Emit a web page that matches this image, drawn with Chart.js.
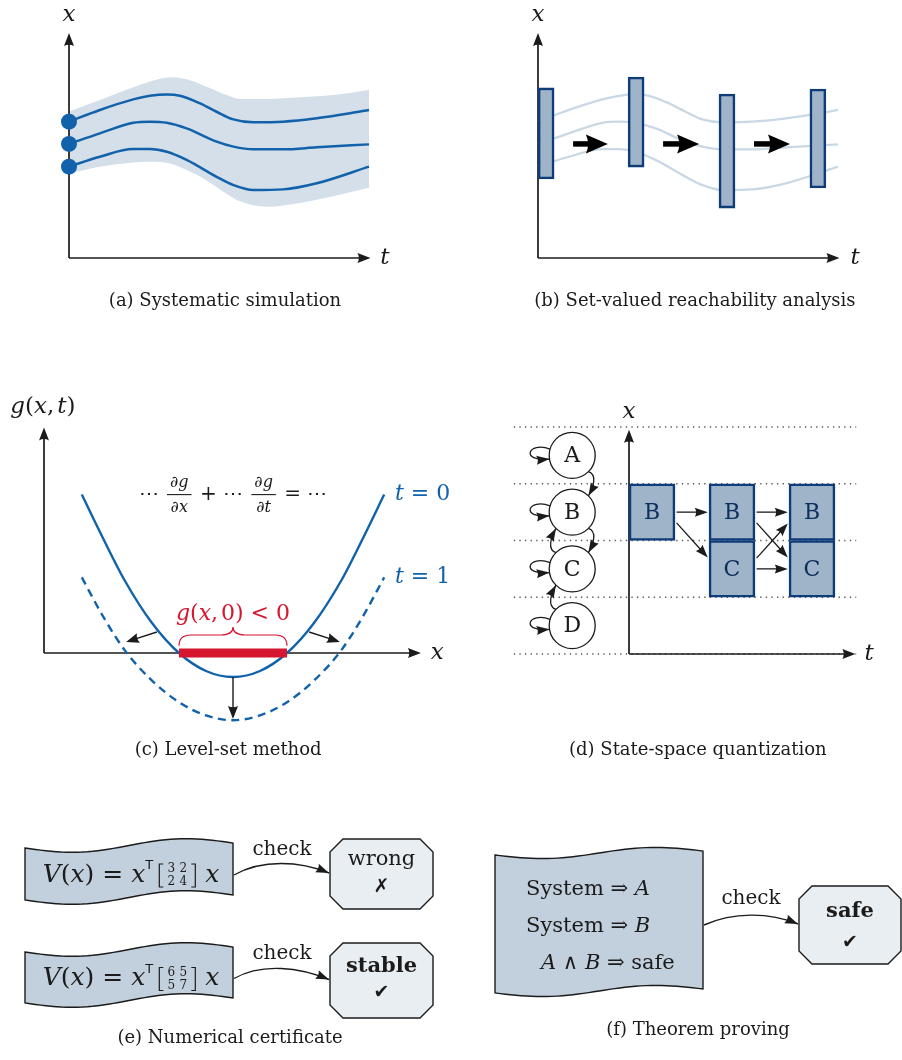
<!DOCTYPE html>
<html>
<head>
<meta charset="utf-8">
<script src="https://cdn.jsdelivr.net/npm/chart.js@4.4.1/dist/chart.umd.min.js"></script>
<style>
  html, body { margin: 0; padding: 0; background: #fff; }
  #page { position: relative; width: 902px; height: 1060px; overflow: hidden; background: #fff; }
  #page canvas { position: absolute; }
</style>
</head>
<body>
<div id="page">
  <canvas id="panelA"></canvas>
  <canvas id="panelB"></canvas>
  <canvas id="panelC"></canvas>
  <canvas id="panelD"></canvas>
  <canvas id="panelE"></canvas>
  <canvas id="panelF"></canvas>
</div>
<script>
// ---------------- (a)/(b) sampled trajectories, [t, x] ----------------
const trajUpper = [[0,6.06],[1.03,6.58],[2.14,7.05],[2.7,7.21],[3.26,7.27],[3.7,7.21],[4.37,6.87],[4.92,6.5],[5.48,6.16],[6.14,6.03],[7.14,6.06],[8.26,6.21],[9.37,6.43],[10,6.58]];
const trajMiddle = [[0,5.07],[1.03,5.54],[2.14,6.01],[2.7,6.06],[3.26,6.01],[3.92,5.76],[4.92,5.17],[5.48,4.95],[6.14,4.83],[7.14,4.83],[8.26,4.92],[10,5.05]];
const trajLower = [[0,4.06],[1.03,4.5],[2.14,4.84],[2.7,4.84],[3.26,4.72],[3.92,4.36],[4.92,3.61],[5.48,3.24],[6.14,3.02],[7.14,3.05],[8.26,3.32],[10,4.06]];
// uncertainty band around the trajectories (same time samples for both edges)
const bandT = [0, 1.03, 2.14, 2.7, 3.37, 3.92, 4.59, 5.26, 5.7, 6.59, 7.7, 8.81, 10];
const bandHigh = [6.5, 7.02, 7.59, 7.84, 8.03, 7.94, 7.61, 7.24, 7.07, 7.07, 7.14, 7.24, 7.47];
const bandLow = [3.76, 4.06, 4.25, 4.28, 4.2, 3.91, 3.45, 2.85, 2.52, 2.28, 2.45, 2.75, 3.12];

// ---------------- (b) reachable-set enclosures ----------------
const reachT = [0.27, 3.27, 6.3, 9.33];
const reachLo = [3.51, 4.04, 2.22, 3.11];
const reachHi = [7.56, 8.04, 7.29, 7.51];
const stepArrows = [[1.17, 2.33], [4.17, 5.37], [7.2, 8.4]];
const stepArrowX = 5.07;

// ---------------- (c) level-set function g(x,t) ----------------
const levelX  = [-2.8, -2.4, -2, -1.5, -1, -0.5, 0, 0.5, 1, 1.5, 2, 2.4, 2.8];
const levelG0 = [6.6, 4.75, 3, 1.25, 0, -0.75, -1, -0.75, 0, 1.25, 3, 4.75, 6.6];
const levelG1 = [3.15, 1.5, 0.1, -1.15, -2.05, -2.6, -2.8, -2.6, -2.05, -1.15, 0.1, 1.5, 3.15];
const negativeSet = [-1, 1];
const levelMoves = [[-1.41, 0.875, -1.98, 0.46], [1.41, 0.875, 1.98, 0.46], [0, -1, 0, -2.75]];

// ---------------- (d) quantized state space ----------------
const rowBounds = [0, 1, 2, 3, 4];
const nodeNames = ['A', 'B', 'C', 'D'];
const nodeRows = [3.5, 2.5, 1.5, 0.5];
const nodeT = -0.71;
const nodeEdges = [['A', 'B', 'right'], ['B', 'C', 'right'], ['C', 'B', 'left'], ['D', 'C', 'left']];
const cellT = [0, 1, 1, 2, 2];
const cellRow = [2, 2, 1, 2, 1];
const cellName = ['B', 'B', 'C', 'B', 'C'];
const cellSpan = 0.575;
const cellMoves = [[0, 1], [0, 2], [1, 3], [2, 4], [1, 4], [2, 3]];

// ---------------- (e) Lyapunov candidates, (f) proof obligations ----------------
const certMatrices = [[[3, 2], [2, 4]], [[6, 5], [5, 7]]];
const certVerdicts = [['wrong', '✗', false], ['stable', '✔', true]];
const proofLines = [['System ⇒ ', 'A'], ['System ⇒ ', 'B'], ['A ∧ B ⇒ ', 'safe']];
const proofVerdict = ['safe', '✔'];

// ---------------- styling ----------------
const BLUE = '#1162ab', BAND = '#d4dfe9', FAINT = '#cad8e5';
const BOX_FILL = '#9fb4c9', BOX_EDGE = '#0e3c78', NAVY = '#0d2f5e';
const RED = '#d6152f', INK = '#1b1b1b';
const TAPE = '#c2cfdc', OCT = '#e9eef3';
const SERIF = '"DejaVu Serif", "Liberation Serif", serif';
const SANS = '"DejaVu Sans", sans-serif';
const font = (size, style) => (style ? style + ' ' : '') + size + 'px ' + SERIF;
const CAPTION = font(18);
const MARK = 'bold 19px ' + SANS;

// ---------------- drawing helpers ----------------
function head(ctx, x, y, ang, hl, hw, col) {
  ctx.save();
  ctx.translate(x, y); ctx.rotate(ang);
  ctx.fillStyle = col;
  ctx.beginPath();
  ctx.moveTo(0, 0);
  ctx.lineTo(-hl, -hw / 2);
  ctx.quadraticCurveTo(-hl * 0.8, 0, -hl, hw / 2);
  ctx.closePath();
  ctx.fill();
  ctx.restore();
}
function arrow(ctx, x1, y1, x2, y2, o) {
  o = o || {};
  const lw = o.lw || 1.4, hl = o.hl || 11, hw = o.hw || 8, col = o.color || INK;
  const ang = Math.atan2(y2 - y1, x2 - x1);
  ctx.save();
  ctx.strokeStyle = col; ctx.lineWidth = lw; ctx.lineCap = 'butt'; ctx.setLineDash([]);
  ctx.beginPath();
  ctx.moveTo(x1, y1);
  ctx.lineTo(x2 - Math.cos(ang) * hl * 0.7, y2 - Math.sin(ang) * hl * 0.7);
  ctx.stroke();
  ctx.restore();
  head(ctx, x2, y2, ang, hl, hw, col);
}
function curveArrow(ctx, p0, c1, c2, p3, o) {
  o = o || {};
  const lw = o.lw || 1.3, hl = o.hl || 11, hw = o.hw || 8, col = o.color || INK;
  ctx.save();
  ctx.strokeStyle = col; ctx.lineWidth = lw; ctx.setLineDash([]);
  ctx.beginPath();
  ctx.moveTo(p0[0], p0[1]);
  ctx.bezierCurveTo(c1[0], c1[1], c2[0], c2[1], p3[0], p3[1]);
  ctx.stroke();
  ctx.restore();
  head(ctx, p3[0], p3[1], Math.atan2(p3[1] - c2[1], p3[0] - c2[0]), hl, hw, col);
}
function text(ctx, s, x, y, f, col, align) {
  ctx.save();
  ctx.font = f; ctx.fillStyle = col || INK;
  ctx.textAlign = align || 'center'; ctx.textBaseline = 'middle';
  ctx.fillText(s, x, y);
  ctx.restore();
}
// a line of mixed runs: {t, f, dy} or {w, paint}
function rich(ctx, runs, x, y, align, col) {
  ctx.save();
  ctx.fillStyle = col || INK; ctx.strokeStyle = col || INK;
  ctx.textBaseline = 'middle'; ctx.textAlign = 'left';
  let total = 0;
  runs.forEach(r => { if (r.paint == null) { ctx.font = r.f; r.w = ctx.measureText(r.t).width + (r.pad || 0); } total += r.w; });
  let cx = align === 'left' ? x : x - total / 2;
  runs.forEach(r => {
    if (r.paint) r.paint(ctx, cx, y);
    else { ctx.font = r.f; ctx.fillText(r.t, cx, y + (r.dy || 0)); }
    cx += r.w;
  });
  ctx.restore();
}
function fraction(ctx, num, den, f) {
  ctx.font = f;
  const w = Math.max(ctx.measureText(num).width, ctx.measureText(den).width) + 6;
  return { w: w + 4, paint(c, x, y) {
    c.font = f; c.textAlign = 'center';
    c.fillText(num, x + 2 + w / 2, y - 12);
    c.fillText(den, x + 2 + w / 2, y + 13);
    c.lineWidth = 1.1;
    c.beginPath(); c.moveTo(x + 2, y); c.lineTo(x + 2 + w, y); c.stroke();
    c.textAlign = 'left';
  } };
}
function bracket(side) {
  return { w: 8, paint(c, x, y) {
    const xv = side < 0 ? x + 2 : x + 6, s = side < 0 ? 4 : -4;
    c.lineWidth = 1.2;
    c.beginPath();
    c.moveTo(xv + s, y - 11); c.lineTo(xv, y - 11); c.lineTo(xv, y + 12); c.lineTo(xv + s, y + 12);
    c.stroke();
  } };
}
function matrixRun(m) {
  return { w: 24, paint(c, x, y) {
    c.font = '12px ' + SERIF; c.textAlign = 'center';
    c.fillText(String(m[0][0]), x + 6, y - 6); c.fillText(String(m[0][1]), x + 18, y - 6);
    c.fillText(String(m[1][0]), x + 6, y + 7); c.fillText(String(m[1][1]), x + 18, y + 7);
    c.textAlign = 'left';
  } };
}
function tape(ctx, x0, x1, y0, y1, amp, tilt) {
  const edge = (u) => amp * Math.sin(2 * Math.PI * u) - tilt * u;
  const n = 40;
  ctx.beginPath();
  for (let i = 0; i <= n; i++) {
    const u = i / n, x = x0 + (x1 - x0) * u;
    if (i === 0) ctx.moveTo(x, y0 + edge(u)); else ctx.lineTo(x, y0 + edge(u));
  }
  for (let i = n; i >= 0; i--) {
    const u = i / n;
    ctx.lineTo(x0 + (x1 - x0) * u, y1 + edge(u));
  }
  ctx.closePath();
  ctx.fillStyle = TAPE; ctx.fill();
  ctx.strokeStyle = INK; ctx.lineWidth = 1.4; ctx.stroke();
}
function octagon(ctx, x0, x1, y0, y1, cut) {
  ctx.beginPath();
  ctx.moveTo(x0 + cut, y0); ctx.lineTo(x1 - cut, y0); ctx.lineTo(x1, y0 + cut);
  ctx.lineTo(x1, y1 - cut); ctx.lineTo(x1 - cut, y1); ctx.lineTo(x0 + cut, y1);
  ctx.lineTo(x0, y1 - cut); ctx.lineTo(x0, y0 + cut); ctx.closePath();
  ctx.fillStyle = OCT; ctx.fill();
  ctx.strokeStyle = INK; ctx.lineWidth = 1.4; ctx.stroke();
}

// ---------------- panel setup ----------------
// place: canvas rectangle on the page; origin (ox, oy) and px-per-unit (sx, sy) define the value frame
function panel(id, place, ox, oy, sx, sy, down, datasets, plugin) {
  const cv = document.getElementById(id);
  cv.width = place.w; cv.height = place.h;
  cv.style.left = place.left + 'px'; cv.style.top = place.top + 'px';
  cv.style.width = place.w + 'px'; cv.style.height = place.h + 'px';
  const yScale = down
    ? { min: -oy / sy, max: (place.h - oy) / sy, reverse: true }
    : { min: -(place.h - oy) / sy, max: oy / sy };
  return new Chart(cv, {
    type: 'scatter',
    data: { datasets },
    options: {
      responsive: false, animation: false, devicePixelRatio: 1, events: [],
      layout: { padding: 0, autoPadding: false },
      plugins: { legend: { display: false }, tooltip: { enabled: false }, title: { display: false } },
      scales: {
        x: { type: 'linear', display: false, offset: false, bounds: 'data', min: -ox / sx, max: (place.w - ox) / sx },
        y: Object.assign({ type: 'linear', display: false, offset: false, bounds: 'data' }, yScale)
      },
      elements: { point: { radius: 0, hoverRadius: 0 }, line: { tension: 0 } }
    },
    plugins: [plugin]
  });
}
const pairs = (arr) => arr.map(p => ({ x: p[0], y: p[1] }));
const curve = (data, color, width, extra) => Object.assign({
  data, showLine: true, borderColor: color, borderWidth: width, pointRadius: 0,
  cubicInterpolationMode: 'monotone', fill: false, clip: false
}, extra || {});
const AXIS = { lw: 1.7, hl: 13, hw: 10 };

// ---------------- (a) Systematic simulation ----------------
panel('panelA', { left: 0, top: 0, w: 451, h: 330 }, 69, 258, 30, 22.5, false, [
  { label: 'starts', data: [trajUpper[0], trajMiddle[0], trajLower[0]].map(p => ({ x: p[0], y: p[1] })),
    pointRadius: 8, pointBackgroundColor: BLUE, pointBorderWidth: 0, showLine: false, clip: false, order: 1 },
  curve(pairs(trajUpper), BLUE, 2.5, { order: 2 }),
  curve(pairs(trajMiddle), BLUE, 2.5, { order: 2 }),
  curve(pairs(trajLower), BLUE, 2.5, { order: 2 }),
  curve(bandT.map((t, i) => ({ x: t, y: bandHigh[i] })), 'rgba(0,0,0,0)', 1, { label: 'band', fill: '+1', backgroundColor: BAND, order: 9 }),
  curve(bandT.map((t, i) => ({ x: t, y: bandLow[i] })), 'rgba(0,0,0,0)', 1, { label: 'bandLow', order: 10 })
], {
  id: 'simulation',
  afterDatasetDraw(ch, args) {
    if (ch.data.datasets[args.index].label !== 'band') return;
    const X = v => ch.scales.x.getPixelForValue(v), Y = v => ch.scales.y.getPixelForValue(v);
    arrow(ch.ctx, X(0), Y(0), X(10.05), Y(0), AXIS);
    arrow(ch.ctx, X(0), Y(0), X(0), Y(10), AXIS);
  },
  afterDraw(ch) {
    const X = v => ch.scales.x.getPixelForValue(v), Y = v => ch.scales.y.getPixelForValue(v), ctx = ch.ctx;
    text(ctx, 'x', X(0), Y(10.78), font(23, 'italic'));
    text(ctx, 't', X(10.53), Y(0), font(23, 'italic'));
    text(ctx, '(a) Systematic simulation', X(5.2), Y(-1.91), CAPTION);
  }
});

// ---------------- (b) Set-valued reachability analysis ----------------
panel('panelB', { left: 451, top: 0, w: 451, h: 330 }, 87, 258, 30, 22.5, false, [
  { type: 'bar', data: reachT.map((t, i) => ({ x: t, y: [reachLo[i], reachHi[i]] })),
    backgroundColor: BOX_FILL, borderColor: BOX_EDGE, borderWidth: 2.6, borderSkipped: false,
    barThickness: 16, grouped: false, order: 1 },
  curve(pairs(trajUpper), FAINT, 2.3, { order: 5 }),
  curve(pairs(trajMiddle), FAINT, 2.3, { order: 5 }),
  curve(pairs(trajLower), FAINT, 2.3, { order: 5 })
], {
  id: 'reachability',
  beforeDatasetsDraw(ch) {
    const X = v => ch.scales.x.getPixelForValue(v), Y = v => ch.scales.y.getPixelForValue(v);
    arrow(ch.ctx, X(0), Y(0), X(10.05), Y(0), AXIS);
    arrow(ch.ctx, X(0), Y(0), X(0), Y(10), AXIS);
  },
  afterDraw(ch) {
    const X = v => ch.scales.x.getPixelForValue(v), Y = v => ch.scales.y.getPixelForValue(v), ctx = ch.ctx;
    stepArrows.forEach(([a, b]) => arrow(ctx, X(a), Y(stepArrowX), X(b), Y(stepArrowX), { lw: 5.5, hl: 22, hw: 19, color: '#000' }));
    text(ctx, 'x', X(0), Y(10.78), font(23, 'italic'));
    text(ctx, 't', X(10.57), Y(0), font(23, 'italic'));
    text(ctx, '(b) Set-valued reachability analysis', X(5.23), Y(-1.91), CAPTION);
  }
});

// ---------------- (c) Level-set method ----------------
panel('panelC', { left: 0, top: 380, w: 451, h: 390 }, 233, 273, 54, 24, false, [
  curve(negativeSet.map(x => ({ x, y: 0 })), RED, 9, { cubicInterpolationMode: 'default', borderCapStyle: 'butt', order: 1 }),
  curve(levelX.map((x, i) => ({ x, y: levelG0[i] })), BLUE, 2.4, { order: 3 }),
  curve(levelX.map((x, i) => ({ x, y: levelG1[i] })), BLUE, 2.4, { borderDash: [8, 5.5], order: 3 })
], {
  id: 'levelset',
  beforeDatasetsDraw(ch) {
    const X = v => ch.scales.x.getPixelForValue(v), Y = v => ch.scales.y.getPixelForValue(v);
    arrow(ch.ctx, X(-3.5), Y(0), X(3.48), Y(0), AXIS);
    arrow(ch.ctx, X(-3.5), Y(0), X(-3.5), Y(9.4), AXIS);
  },
  afterDraw(ch) {
    const X = v => ch.scales.x.getPixelForValue(v), Y = v => ch.scales.y.getPixelForValue(v), ctx = ch.ctx;
    levelMoves.forEach(m => arrow(ctx, X(m[0]), Y(m[1]), X(m[2]), Y(m[3]), { lw: 1.4, hl: 13, hw: 10 }));
    // brace over the negative set
    const xl = X(negativeSet[0]), xr = X(negativeSet[1]), xm = X(0);
    const yE = Y(0.3), yB = Y(0.75), yT = Y(1.08), r = 12;
    ctx.save();
    ctx.strokeStyle = RED; ctx.lineWidth = 1.2;
    ctx.beginPath();
    ctx.moveTo(xl, yE); ctx.quadraticCurveTo(xl, yB, xl + r, yB); ctx.lineTo(xm - r, yB);
    ctx.quadraticCurveTo(xm, yB, xm, yT); ctx.quadraticCurveTo(xm, yB, xm + r, yB);
    ctx.lineTo(xr - r, yB); ctx.quadraticCurveTo(xr, yB, xr, yE);
    ctx.stroke();
    ctx.restore();
    const it = font(22, 'italic'), up = font(22);
    rich(ctx, [{ t: 'g', f: it }, { t: '(', f: up }, { t: 'x', f: it }, { t: ',', f: up, pad: 3 }, { t: '0) < 0', f: up }], X(0), Y(1.6), 'center', RED);
    // transport equation
    const m = font(20), fi = font(16, 'italic');
    rich(ctx, [{ t: '⋯ ', f: m }, fraction(ctx, '∂g', '∂x', fi), { t: ' + ⋯ ', f: m }, fraction(ctx, '∂g', '∂t', fi), { t: ' = ⋯', f: m }], X(0), Y(6.6), 'center', INK);
    const lt = font(22, 'italic'), lu = font(22);
    rich(ctx, [{ t: 't', f: lt }, { t: ' = 0', f: lu }], X(3.0), Y(6.6), 'left', BLUE);
    rich(ctx, [{ t: 't', f: lt }, { t: ' = 1', f: lu }], X(3.0), Y(3.17), 'left', BLUE);
    const it2 = font(23, 'italic'), up2 = font(23);
    rich(ctx, [{ t: 'g', f: it2 }, { t: '(', f: up2 }, { t: 'x', f: it2 }, { t: ',', f: up2, pad: 3 }, { t: 't', f: it2 }, { t: ')', f: up2 }], X(-3.52), Y(10.25), 'center', INK);
    text(ctx, 'x', X(3.78), Y(0), font(23, 'italic'));
    text(ctx, '(c) Level-set method', X(-0.09), Y(-4.04), CAPTION);
  }
});

// ---------------- (d) State-space quantization ----------------
const cellCenters = cellT.map(t => t + cellSpan / 2);
panel('panelD', { left: 451, top: 380, w: 451, h: 390 }, 178, 274, 80, 56.75, false, [
  { data: nodeNames.map((n, i) => ({ x: nodeT, y: nodeRows[i] })), showLine: false, clip: false,
    pointRadius: 23, pointBackgroundColor: '#fff', pointBorderColor: INK, pointBorderWidth: 1.3, order: 1 },
  { type: 'bar', data: cellCenters.map((t, i) => ({ x: t, y: [cellRow[i], cellRow[i] + 1] })),
    backgroundColor: BOX_FILL, borderColor: BOX_EDGE, borderWidth: 2.6, borderSkipped: false,
    barThickness: 46, grouped: false, order: 2 },
  ...rowBounds.map(r => curve([{ x: -1.44, y: r }, { x: 2.84, y: r }], '#555', 1.3,
    { cubicInterpolationMode: 'default', borderDash: [1.3, 4.3], order: 9 }))
], {
  id: 'quantization',
  beforeDatasetDraw(ch, args) {
    if (ch.data.datasets[args.index].type !== 'bar') return;
    const X = v => ch.scales.x.getPixelForValue(v), Y = v => ch.scales.y.getPixelForValue(v);
    arrow(ch.ctx, X(0), Y(0), X(2.83), Y(0), AXIS);
    arrow(ch.ctx, X(0), Y(0), X(0), Y(3.95), AXIS);
  },
  afterDraw(ch) {
    const X = v => ch.scales.x.getPixelForValue(v), Y = v => ch.scales.y.getPixelForValue(v), ctx = ch.ctx;
    const R = 23, k = R * Math.SQRT1_2;
    const at = name => [X(nodeT), Y(nodeRows[nodeNames.indexOf(name)])];
    nodeNames.forEach(n => {
      const [cx, cy] = at(n);
      text(ctx, n, cx, cy + 1, font(22), INK);
      const a1 = Math.PI + 0.28, a2 = Math.PI - 0.16;
      const p0 = [cx + R * Math.cos(a1), cy + R * Math.sin(a1)];
      const p3 = [cx + R * Math.cos(a2), cy + R * Math.sin(a2)];
      curveArrow(ctx, p0, [p0[0] - 22, p0[1] - 8], [p3[0] - 30, p3[1] + 3], p3, { hl: 13, hw: 9 });
    });
    nodeEdges.forEach(([a, b, side]) => {
      const [ax, ay] = at(a), [bx, by] = at(b);
      const s = side === 'right' ? 1 : -1, dir = Math.sign(by - ay);
      const p0 = [ax + s * k, ay + dir * k], p3 = [bx + s * k, by - dir * k];
      curveArrow(ctx, p0, [p0[0] + s * 9, p0[1] + dir * 3], [p3[0] + s * 5, p3[1] - dir * 9], p3, { hl: 13, hw: 9 });
    });
    cellName.forEach((n, i) => text(ctx, n, X(cellCenters[i]), Y(cellRow[i] + 0.5) + 1, font(22), NAVY));
    cellMoves.forEach(([i, j]) => {
      let y1 = cellRow[i] + 0.5, y2 = cellRow[j] + 0.5;
      if (cellRow[j] !== cellRow[i]) { const s = Math.sign(cellRow[j] - cellRow[i]); y1 += s * 0.19; y2 -= s * 0.2; }
      arrow(ctx, X(cellT[i] + cellSpan + 0.02), Y(y1), X(cellT[j] - 0.015), Y(y2), { lw: 1.3, hl: 13, hw: 9 });
    });
    text(ctx, 'x', X(0), Y(4.26), font(23, 'italic'));
    text(ctx, 't', X(3.0), Y(0), font(23, 'italic'));
    text(ctx, '(d) State-space quantization', X(0.86), Y(-1.69), CAPTION);
  }
});

// ---------------- (e) Numerical certificate ----------------
const certLayout = { tape: [25, 233], tapeRows: [[48, 100], [152, 203]], oct: [330, 433], octRows: [[39, 109], [143, 218]] };
panel('panelE', { left: 0, top: 800, w: 451, h: 260 }, 0, 0, 1, 1, true, [], {
  id: 'certificate',
  afterDraw(ch) {
    const X = v => ch.scales.x.getPixelForValue(v), Y = v => ch.scales.y.getPixelForValue(v), ctx = ch.ctx;
    const L = certLayout;
    certMatrices.forEach((m, i) => {
      const [t0, t1] = L.tapeRows[i], [o0, o1] = L.octRows[i];
      tape(ctx, X(L.tape[0]), X(L.tape[1]), Y(t0), Y(t1), 5.5, 5);
      const it = font(25, 'italic'), up = font(25);
      rich(ctx, [
        { t: 'V', f: it }, { t: '(', f: up }, { t: 'x', f: it }, { t: ')', f: up }, { t: ' = ', f: up },
        { t: 'x', f: it }, { t: 'T ', f: '13px ' + SANS, dy: -9 },
        bracket(-1), matrixRun(m), bracket(1), { t: ' x', f: it }
      ], X((L.tape[0] + L.tape[1]) / 2 + 2), Y((t0 + t1) / 2 + 1), 'center', INK);
      octagon(ctx, X(L.oct[0]), X(L.oct[1]), Y(o0), Y(o1), 13);
      const [word, mark, strong] = certVerdicts[i];
      text(ctx, word, X((L.oct[0] + L.oct[1]) / 2), Y(o0 + (strong ? 24 : 21)), strong ? font(21, 'bold') : font(21), INK);
      text(ctx, mark, X((L.oct[0] + L.oct[1]) / 2), Y(o0 + (strong ? 50 : 48)), MARK, INK);
      const yA = (t0 + t1) / 2 + 1, yB = (o0 + o1) / 2 - 1;
      curveArrow(ctx, [X(L.tape[1] + 1), Y(yA)], [X(262), Y(yA - 16)], [X(300), Y(yB - 12)], [X(L.oct[0] - 1), Y(yB)], { lw: 1.4, hl: 13, hw: 9 });
      text(ctx, 'check', X(282), Y(t0 + 2), font(20), INK);
    });
    text(ctx, '(e) Numerical certificate', X(230), Y(238), CAPTION);
  }
});

// ---------------- (f) Theorem proving ----------------
panel('panelF', { left: 451, top: 800, w: 451, h: 260 }, 0, 0, 1, 1, true, [], {
  id: 'proving',
  afterDraw(ch) {
    const X = v => ch.scales.x.getPixelForValue(v), Y = v => ch.scales.y.getPixelForValue(v), ctx = ch.ctx;
    tape(ctx, X(44), X(252), Y(55), Y(193), 4.5, 4);
    const up = font(21), it = font(21, 'italic');
    rich(ctx, [{ t: proofLines[0][0], f: up }, { t: proofLines[0][1], f: it }], X(75), Y(90), 'left', INK);
    rich(ctx, [{ t: proofLines[1][0], f: up }, { t: proofLines[1][1], f: it }], X(75), Y(127), 'left', INK);
    rich(ctx, [{ t: 'A', f: it }, { t: ' ∧ ', f: up }, { t: 'B', f: it }, { t: ' ⇒ ', f: up }, { t: proofLines[2][1], f: up }], X(90), Y(164), 'left', INK);
    octagon(ctx, X(348), X(450), Y(86), Y(164), 13);
    text(ctx, proofVerdict[0], X(399), Y(112), font(21, 'bold'), INK);
    text(ctx, proofVerdict[1], X(399), Y(143), MARK, INK);
    curveArrow(ctx, [X(253), Y(125)], [X(282), Y(112)], [X(318), Y(112)], [X(347), Y(124)], { lw: 1.4, hl: 13, hw: 9 });
    text(ctx, 'check', X(300), Y(99), font(20), INK);
    text(ctx, '(f) Theorem proving', X(247), Y(230), CAPTION);
  }
});
</script>
</body>
</html>
